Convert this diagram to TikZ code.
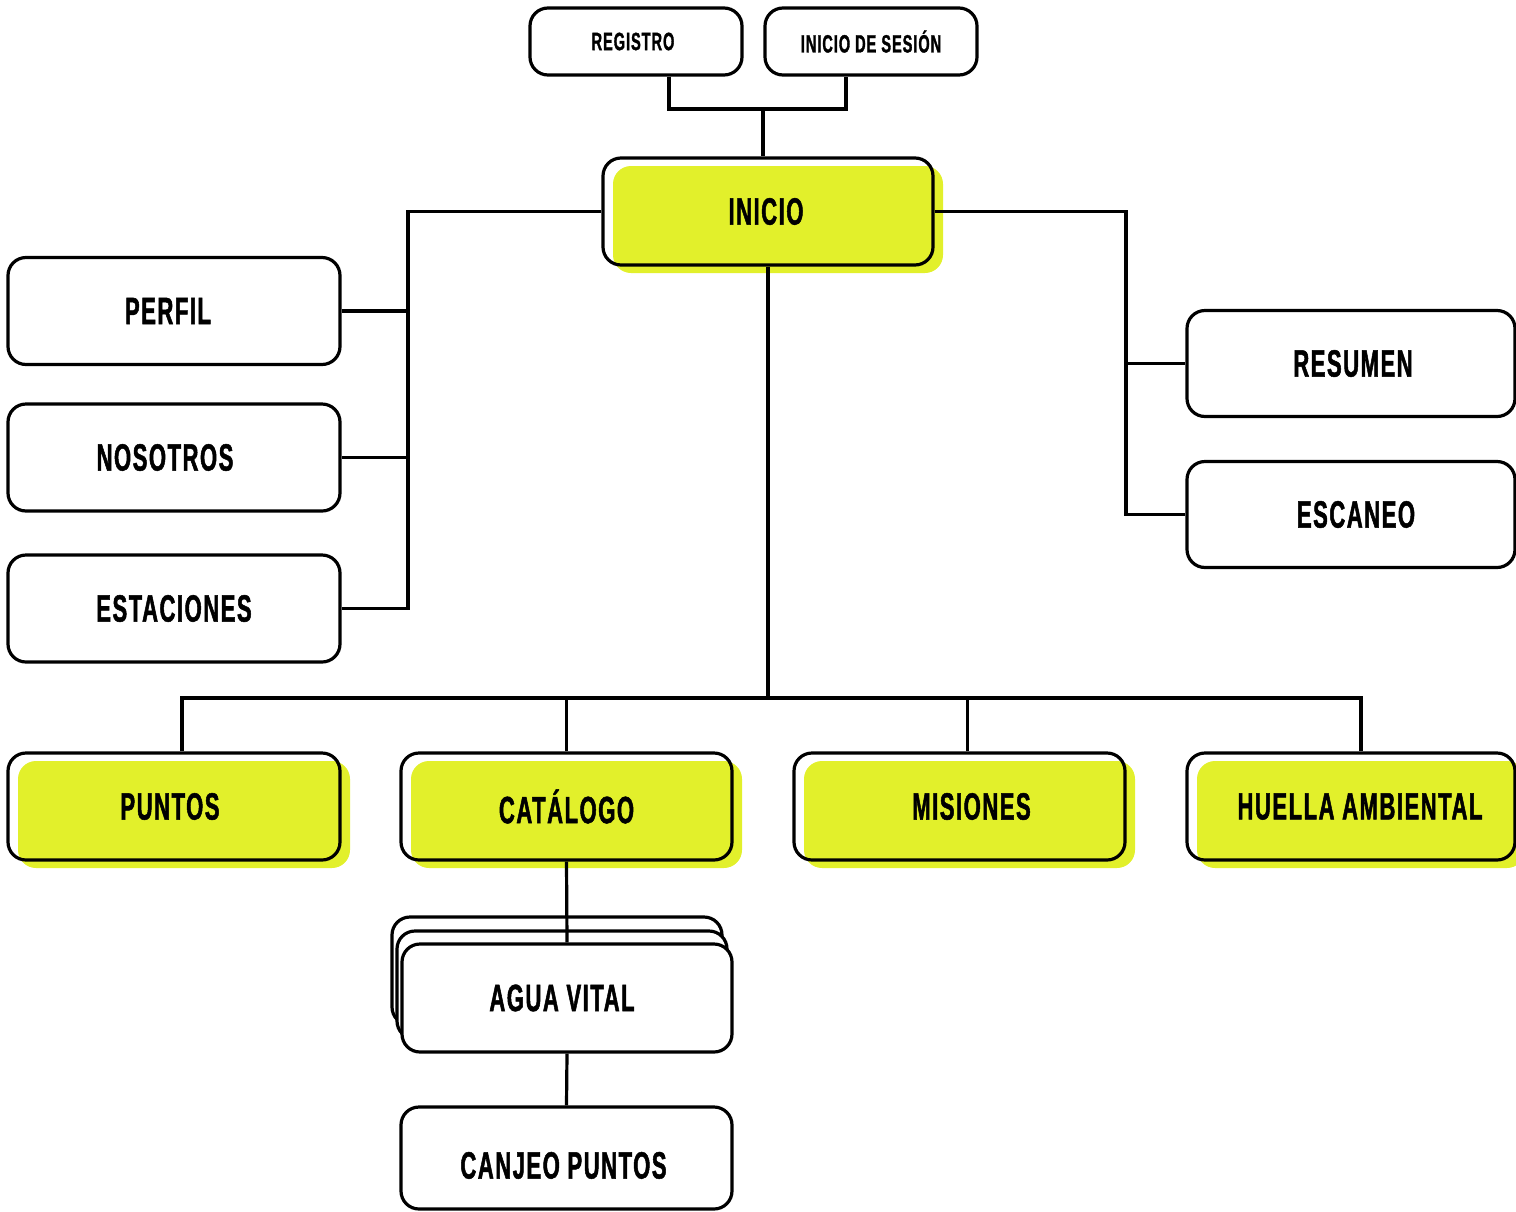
\documentclass[tikz,border=0pt]{standalone}
\usepackage{fontspec}
\usetikzlibrary{shadows}
\newfontfamily\condfont[FakeStretch=0.58,FakeBold=1.3,LetterSpace=4]{Liberation Sans Bold}
\definecolor{yel}{RGB}{226,240,43}
\begin{document}
\begin{tikzpicture}[x=1pt,y=-1pt,
  line width=3.2pt,
  box/.style={draw=black, line width=3.2pt, rounded corners=18pt, inner sep=0pt,
    font=\condfont\fontsize{38}{38}\selectfont},
  small/.style={box, minimum width=212pt, minimum height=67pt,
    font=\condfont\fontsize{25}{25}\selectfont, fill=white},
  plain/.style={box, fill=white, minimum width=332pt, minimum height=107pt},
  hi/.style={box, minimum width=330pt, minimum height=107pt,
    general shadow={shadow xshift=10pt, shadow yshift=-8pt, fill=yel, draw=none}},
  stack/.style={plain,
    general shadow={shadow xshift=-10pt, shadow yshift=27pt, draw=black, fill=white, line width=3.2pt},
    general shadow={shadow xshift=-5pt, shadow yshift=13pt, draw=black, fill=white, line width=3.2pt}},
  conn/.style={draw=black, line width=3.2pt}
]
\useasboundingbox (0,0) rectangle (1516,1211);

% top
\node[small] (reg) at (636,41.5) {\hspace*{-6pt}REGISTRO};
\node[small] (ses) at (871,41.5) {INICIO DE SESIÓN};

% central
\node[hi] (inicio) at (768,211.5) {INICIO\hspace*{4pt}};

% left
\node[plain] (perfil) at (174,311) {PERFIL\hspace*{12pt}};
\node[plain] (nosotros) at (174,457.5) {NOSOTROS\hspace*{18pt}};
\node[plain] (estaciones) at (174,608.5) {ESTACIONES};

% right
\node[plain, minimum width=328pt, minimum height=106pt] (resumen) at (1351,363.5) {\hspace*{4pt}RESUMEN};
\node[plain, minimum width=328pt, minimum height=106pt] (escaneo) at (1351,514.5) {\hspace*{10pt}ESCANEO};

% bottom row
\node[hi, minimum width=332pt] (puntos) at (174,806.5) {PUNTOS\hspace*{8pt}};
\node[hi, minimum width=331pt] (catalogo) at (566.5,806.5) {CATÁLOGO};
\node[hi, minimum width=331pt] (misiones) at (959.5,806.5) {\hspace*{24pt}MISIONES};
\node[hi, minimum width=328pt] (huella) at (1351,806.5) {\hspace*{18pt}HUELLA AMBIENTAL};

% stack
\node[stack, minimum width=330pt, minimum height=108pt] (agua) at (567,998) {AGUA VITAL\hspace*{10pt}};
\node[plain, minimum width=331pt, minimum height=102pt, text height=41pt, text depth=0pt] (canjeo) at (566.5,1158) {CANJEO PUNTOS\hspace*{6pt}};

% connectors
\coordinate (J) at (763,109);
\coordinate (L) at (408,0);
\coordinate (R) at (1126,0);
\coordinate (H) at (0,698);

\draw[conn] ([xshift=33pt]reg.south) |- (J) -| ([xshift=-25pt]ses.south);
\draw[conn] (J) -- (inicio.north -| J);

\draw[conn] (inicio.west) -| (L |- estaciones.east) -- (estaciones.east);
\draw[conn] (perfil.east) -- (perfil.east -| L);
\draw[conn] (nosotros.east) -- (nosotros.east -| L);

\draw[conn] (inicio.east) -| (R |- escaneo.west) -- (escaneo.west);
\draw[conn] (resumen.west) -- (resumen.west -| R);

\draw[conn] (inicio.south) -- (inicio.south |- H);
\draw[conn] ([xshift=8pt]puntos.north) |- ([xshift=10pt]huella.north |- H) -- ([xshift=10pt]huella.north);
\draw[conn] (catalogo.north) -- (catalogo.north |- H);
\draw[conn] ([xshift=8pt]misiones.north) -- ([xshift=8pt]misiones.north |- H);

\draw[conn] (catalogo.south) -- (agua.north);
\draw[conn] (agua.south) -- (canjeo.north);
\end{tikzpicture}
\end{document}
